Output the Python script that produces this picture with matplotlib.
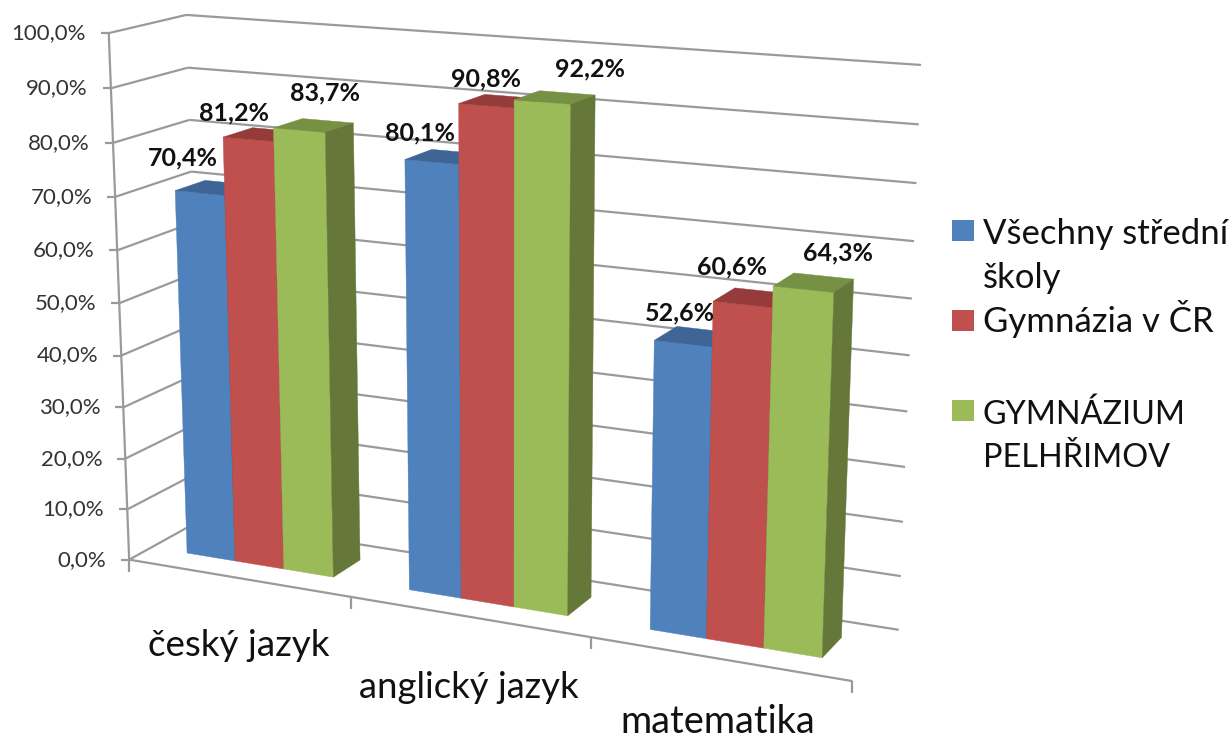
import numpy as np
import matplotlib
matplotlib.use("Agg")
import matplotlib.pyplot as plt
from matplotlib.patches import Polygon, Rectangle

categories = ["český jazyk", "anglický jazyk", "matematika"]
series_names = ["Všechny střední\nškoly", "Gymnázia v ČR", "GYMNÁZIUM\nPELHŘIMOV"]
vsechny = [70.4, 80.1, 52.6]
gymnazia = [81.2, 90.8, 60.6]
pelhrimov = [83.7, 92.2, 64.3]
value_ticks = [0, 10, 20, 30, 40, 50, 60, 70, 80, 90, 100]

plt.rcParams["font.family"] = ["Lato", "DejaVu Sans"]
FRONT = ["#4F81BD", "#C0504D", "#9BBB59"]
TOP = ["#3E6595", "#953C3A", "#779144"]
SIDE = ["#33507A", "#7A3230", "#65783A"]
GRID = "#9A9A9A"

# camera: correspondences (category pos, value, depth) -> canvas pixel
world = np.array([(0, 0, 0), (0, 100, 0), (0, 100, 1), (0, 0, 1), (3, 100, 1),
                  (3, 0, 1), (3, 0, 0), (1, 0, 0), (2, 0, 0)], float)
canvas = np.array([(130, 559), (108, 33), (187, 15), (201, 520), (921, 65),
                   (899, 629), (852, 682), (351, 597), (591, 637)], float)
rows = []
for (X, Y, Z), (px, py) in zip(world, canvas):
    rows.append([X, Y, Z, 1, 0, 0, 0, 0, -px*X, -px*Y, -px*Z, -px])
    rows.append([0, 0, 0, 0, X, Y, Z, 1, -py*X, -py*Y, -py*Z, -py])
scale = np.array([1, 0.01, 1, 1, 1, 0.01, 1, 1, 1, 0.01, 1, 1.0])
A = np.array(rows) * scale
M = (np.linalg.svd(A)[2][-1] * scale).reshape(3, 4)


def P(u, v, w):
    h = M @ np.array([u, v, w, 1.0])
    return h[0] / h[2], h[1] / h[2]


fig = plt.figure(figsize=(12.3, 7.4), dpi=100)
ax = fig.add_axes([0, 0, 1, 1])
ax.set_xlim(0, 1230)
ax.set_ylim(740, 0)
ax.axis("off")


def seg(a, b):
    ax.plot(*zip(a, b), color=GRID, lw=1.6, solid_capstyle="butt", zorder=1)


for v in value_ticks:
    seg(P(0, v, 0), P(0, v, 1))
    seg(P(0, v, 1), P(3, v, 1))
    x, y = P(0, v, 0)
    seg((x - 8, y), (x, y))
    ax.text(x - 23, y, f"{v:.1f}%".replace(".", ","), ha="right", va="center",
            fontsize=16, color="#333333", zorder=5)
seg(P(0, 0, 0), P(0, 100, 0))
seg(P(0, 0, 0), P(3, 0, 0))
for c in range(4):
    x, y = P(c, 0, 0)
    seg((x, y), (x, y + 12))

GAP = 0.75 / 4.5
BW = 1 / 4.5
W0, W1 = 0.3, 0.7
label_offsets = [[(-17, -35), (-14, -26), (26, -37)],
                 [(-12, -29), (0, -27), (48, -33)],
                 [(-3, -31), (-11, -38), (35, -36)]]
all_values = [vsechny, gymnazia, pelhrimov]
z = 2
for c in range(3):
    for s, vals in enumerate(all_values):
        v = vals[c]
        u0 = c + GAP + s * BW
        u1 = u0 + BW
        faces = [([P(u0, 0, W0), P(u1, 0, W0), P(u1, v, W0), P(u0, v, W0)], FRONT[s]),
                 ([P(u0, v, W0), P(u1, v, W0), P(u1, v, W1), P(u0, v, W1)], TOP[s]),
                 ([P(u1, 0, W0), P(u1, 0, W1), P(u1, v, W1), P(u1, v, W0)], SIDE[s])]
        for pts, col in faces:
            ax.add_patch(Polygon(pts, closed=True, facecolor=col, edgecolor=col, lw=0.3, zorder=z))
            z += 0.01
        x, y = P((u0 + u1) / 2, v, W0)
        dx, dy = label_offsets[c][s]
        ax.text(x + dx, y + dy, f"{v:.1f}%".replace(".", ","), ha="center", va="center",
                fontsize=18, fontweight="bold", color="#111111", zorder=6)

cat_xy = [(239, 656), (469, 698), (718, 733)]
cat_size = [26.5, 26.3, 27.3]
for name, (x, y), fs in zip(categories, cat_xy, cat_size):
    ax.text(x, y, name, ha="center", va="baseline", fontsize=fs, color="#111111", zorder=6)

legend_swatch_y = [230.5, 320.5, 410.5]
legend_baseline = [288, 332, 467]
legend_size = [25, 25, 23.3]
legend_spacing = [1.45, 1.45, 1.53]
for s, name in enumerate(series_names):
    ax.add_patch(Rectangle((952, legend_swatch_y[s] - 10.5), 22, 21, facecolor=FRONT[s],
                           edgecolor="none", zorder=6))
    ax.text(983, legend_baseline[s], name, ha="left", va="baseline", fontsize=legend_size[s],
            color="#111111", linespacing=legend_spacing[s], zorder=6)

fig.savefig("out.png", dpi=100)
